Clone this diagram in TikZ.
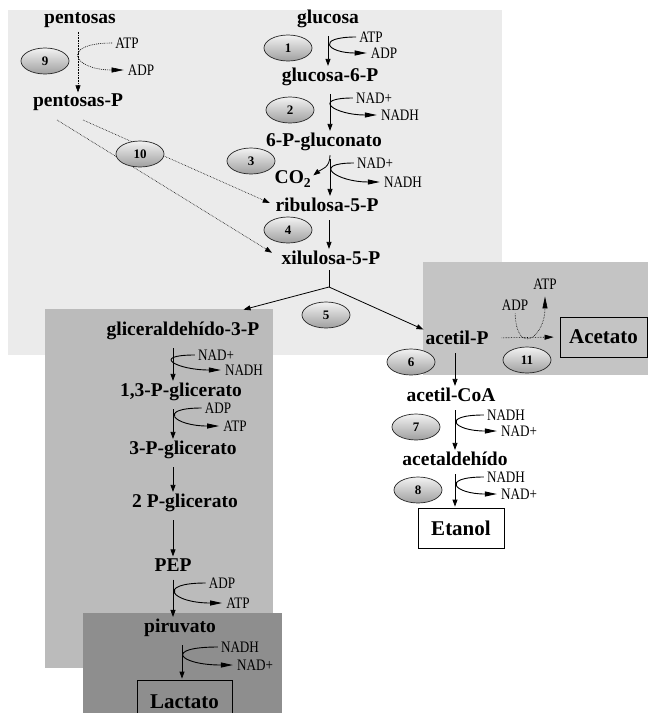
\documentclass[tikz,border=0pt]{standalone}
\usepackage{fontspec}
\setmainfont{Liberation Serif}
\newfontfamily\cofont[FakeStretch=0.82]{Liberation Serif}
\usetikzlibrary{shapes.geometric,arrows.meta,calc}
\definecolor{bgtop}{HTML}{EBEBEB}
\definecolor{bgmid}{HTML}{BBBBBB}
\definecolor{bgac}{HTML}{C4C4C4}
\definecolor{bgdark}{HTML}{8E8E8E}
\begin{document}
\begin{tikzpicture}[x=1pt,y=-1pt,
  met/.style={font=\fontsize{19.5}{21}\selectfont\bfseries, inner sep=1pt},
  cof/.style={font=\cofont\fontsize{16}{16}\selectfont, inner sep=1pt},
  num/.style={ellipse, draw=black!85, line width=0.7pt, minimum width=48pt, minimum height=26pt, inner sep=0pt, top color=gray!10, bottom color=gray!75, font=\fontsize{13}{13}\selectfont\bfseries},
  metbox/.style={draw, line width=0.8pt, font=\fontsize{21}{22}\selectfont\bfseries, inner sep=0pt},
  arr/.style={-{Triangle[length=7pt,width=5pt]}, line width=0.8pt, shorten <=7pt, shorten >=1pt},
  carr/.style={-{Triangle[length=12pt,width=5pt]}, line width=0.9pt, shorten >=3pt, shorten <=2pt},
  dotl/.style={densely dotted, line width=0.6pt}
]
\useasboundingbox (0,0) rectangle (648,713);
\clip (0,0) rectangle (648,713);
% background regions
\fill[bgtop] (8,10) rectangle (502,355);
\fill[bgac] (423,262) rectangle (648,375);
\fill[bgmid] (45,309) rectangle (273,668);
\fill[bgdark] (83,613) rectangle (282,713);

% metabolites
\node[met] (pent) at (80,20) {pentosas};
\node[met] (pentP) at (78,102) {pentosas-P};
\node[met] (glc) at (328,19) {glucosa};
\node[met] (g6p) at (330,77) {glucosa-6-P};
\node[met] (pgl) at (324,142) {6-P-gluconato};
\node[met] (co2) at (293,179) {CO\textsubscript{2}};
\node[met] (rib) at (327,205) {ribulosa-5-P};
\node[met] (xil) at (331,258) {xilulosa-5-P};
\node[met] (gald) at (183,331) {gliceraldehído-3-P};
\node[met] (bpg) at (181,392) {1,3-P-glicerato};
\node[met] (pg3) at (183,450) {3-P-glicerato};
\node[met] (pg2) at (185,503) {2 P-glicerato};
\node[met] (pep) at (173,565) {PEP};
\node[met] (pyr) at (180,628) {piruvato};
\node[metbox, minimum width=95pt, minimum height=44pt] (lac) at (184.5,702) {Lactato};
\node[met] (acp) at (457,338) {acetil-P};
\node[met] (acoa) at (451,395) {acetil-CoA};
\node[met] (acald) at (455,459) {acetaldehído};
\node[metbox, minimum width=86pt, minimum height=40pt] (eth) at (461,528) {Etanol};
\node[metbox, minimum width=87pt, minimum height=40pt] (acet) at (603.5,337) {Acetato};

% cofactors
\node[cof] (atp9) at (127,43) {ATP};
\node[cof] (adp9) at (141,70) {ADP};
\node[cof] (atp1) at (371,37) {ATP};
\node[cof] (adp1) at (384,53) {ADP};
\node[cof] (nad2) at (374,98) {NAD+};
\node[cof] (nadh2) at (400,115) {NADH};
\node[cof] (nad3) at (375,163) {NAD+};
\node[cof] (nadh3) at (403,182) {NADH};
\node[cof] (nadg) at (216,355) {NAD+};
\node[cof] (nadhg) at (244,370) {NADH};
\node[cof] (adpg) at (218,408) {ADP};
\node[cof] (atpg) at (235,426) {ATP};
\node[cof] (adpp) at (222,583) {ADP};
\node[cof] (atpp) at (238,603) {ATP};
\node[cof] (nadhl) at (240,647) {NADH};
\node[cof] (nadl) at (255,665) {NAD+};
\node[cof] (nadh7) at (506,415) {NADH};
\node[cof] (nad7) at (519,431) {NAD+};
\node[cof] (nadh8) at (506,477) {NADH};
\node[cof] (nad8) at (519,494) {NAD+};
\node[cof] (adp11) at (515,305) {ADP};
\node[cof] (atp11) at (545,284) {ATP};

% x positions of vertical arrows
\coordinate (px3) at (330,0);
\coordinate (px4) at (329,0);
\coordinate (gx) at (173,0);
\coordinate (lx) at (182,0);
\coordinate (rx) at (455,0);
\coordinate (split) at (329,287);
\coordinate (d10a) at (83,120);
\coordinate (d10b) at (57,120);

% pentose branch
\draw[dotl, -{Triangle[length=7pt,width=5pt]}, shorten <=3pt] (pentP |- pent.south) -- (pentP.north);
\draw[carr, dotl, -{Triangle[length=12pt,width=5pt]}] (atp9.west) .. controls +(-54,0) and +(-54,0) .. (adp9.west);
\draw[dotl, -{Triangle[length=7pt,width=5pt]}, shorten >=5pt] (d10a) -- (rib.west);
\draw[dotl, -{Triangle[length=7pt,width=5pt]}, shorten >=10pt] (d10b) -- (xil.west);

% oxidative pentose phosphate
\draw[arr] (glc.south) -- (glc.south |- g6p.north);
\draw[carr] (atp1.west) .. controls +(-43,0) and +(-43,0) .. (adp1.west);
\draw[arr] (g6p.south) -- (g6p.south |- pgl.north);
\draw[carr] (nad2.west) .. controls +(-45,0) and +(-45,0) .. (nadh2.west);
\draw[arr] (pgl.south -| px3) -- (rib.north -| px3);
\draw[arr, shorten <=3pt] (pgl.south -| px3) .. controls +(0,16) and +(9,-7) .. ($(co2.east)+(0,-3)$);
\draw[carr] (nad3.west) .. controls +(-46,0) and +(-46,0) .. (nadh3.west);
\draw[arr] (rib.south -| px4) -- (xil.north -| px4);

% split
\draw[line width=0.8pt, shorten <=4pt] (xil.south -| split) -- (split);
\draw[arr, shorten <=0pt] (split) -- ($(gald.north east)+(-18,-11)$);
\draw[arr, shorten <=0pt] (split) -- (acp.north west);

% glycolysis
\draw[arr] (gald.south -| gx) -- (bpg.north -| gx);
\draw[carr] (nadg.west) .. controls +(-47,0) and +(-47,0) .. (nadhg.west);
\draw[arr] (bpg.south -| gx) -- (pg3.north -| gx);
\draw[carr] (adpg.west) .. controls +(-48,0) and +(-48,0) .. (atpg.west);
\draw[arr] (pg3.south -| gx) -- (pg2.north -| gx);
\draw[arr] (pg2.south -| gx) -- (pep.north -| gx);
\draw[arr] (pep.south -| gx) -- (pyr.north -| gx);
\draw[carr] (adpp.west) .. controls +(-53,0) and +(-53,0) .. (atpp.west);
\draw[arr] (pyr.south -| lx) -- (lac.north -| lx);
\draw[carr] (nadhl.west) .. controls +(-57,0) and +(-57,0) .. (nadl.west);

% ethanol branch
\draw[arr] (acp.south -| rx) -- (acoa.north -| rx);
\draw[arr] (acoa.south -| rx) -- (acald.north -| rx);
\draw[carr] (nadh7.west) .. controls +(-46,0) and +(-46,0) .. (nad7.west);
\draw[arr] (acald.south -| rx) -- (eth.north -| rx);
\draw[carr] (nadh8.west) .. controls +(-46,0) and +(-46,0) .. (nad8.west);

% acetate branch
\draw[dotl, -{Triangle[length=9pt,width=5pt]}, shorten <=12pt, shorten >=6pt] (acp.east) -- (acet.west);
\draw[dotl, -{Triangle[length=12pt,width=5pt]}, shorten <=2pt, shorten >=6pt] (adp11.south) .. controls +(2,46) and +(0,46) .. (atp11.south);

% enzyme ellipses
\node[num] (e9) at (45,61) {9};
\node[num] (e1) at (288,48) {1};
\node[num] (e2) at (290,110) {2};
\node[num] (e3) at (251,161) {3};
\node[num] (e10) at (140,154) {10};
\node[num] (e4) at (288,230) {4};
\node[num] (e5) at (326,315) {5};
\node[num] (e6) at (411,362) {6};
\node[num] (e11) at (527,360) {11};
\node[num] (e7) at (416,427) {7};
\node[num] (e8) at (418,490) {8};
\end{tikzpicture}
\end{document}
